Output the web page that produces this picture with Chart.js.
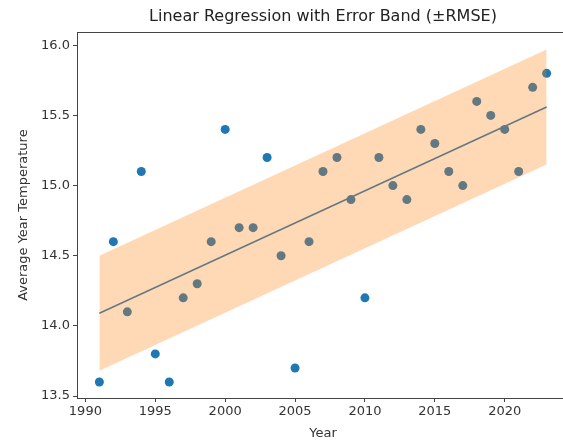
<!DOCTYPE html>
<html>
<head>
<meta charset="utf-8">
<script src="https://cdn.jsdelivr.net/npm/chart.js@4"></script>
<style>
  html, body { margin: 0; padding: 0; background: #fff; overflow: hidden; }
  #wrap { width: 575px; height: 441px; }
</style>
</head>
<body>
<div id="wrap"><canvas id="myChart"></canvas></div>
<script>
// observed data
const years = [1991, 1992, 1993, 1994, 1995, 1996, 1997, 1998, 1999, 2000, 2001,
  2002, 2003, 2004, 2005, 2006, 2007, 2008, 2009, 2010, 2011, 2012, 2013, 2014,
  2015, 2016, 2017, 2018, 2019, 2020, 2021, 2022, 2023];
const temps = [13.6, 14.6, 14.1, 15.1, 13.8, 13.6, 14.2, 14.3, 14.6, 15.4, 14.7,
  14.7, 15.2, 14.5, 13.7, 14.6, 15.1, 15.2, 14.9, 14.2, 15.2, 15.0, 14.9, 15.4,
  15.3, 15.1, 15.0, 15.6, 15.5, 15.4, 15.1, 15.7, 15.8];

// fitted line and band ends
const fitYears = [1991, 2023];
const fitLine = [14.09, 15.56];
const bandUpper = [14.50, 15.97];
const bandLower = [13.68, 15.15];

const xTicks = [1990, 1995, 2000, 2005, 2010, 2015, 2020];
const yTicks = [13.5, 14.0, 14.5, 15.0, 15.5, 16.0];

const toPoints = (xs, ys) => xs.map((x, i) => ({ x: x, y: ys[i] }));

const axisColor = "#444";
const textColor = "#333";
const fontFamily = "'DejaVu Sans', sans-serif";

// draws the full box round the plot area (right side falls outside the window)
const frame = {
  id: "frame",
  afterDatasetsDraw(chart) {
    const a = chart.chartArea;
    const c = chart.ctx;
    c.save();
    c.strokeStyle = axisColor;
    c.lineWidth = 1;
    c.strokeRect(Math.round(a.left) + 0.5, Math.round(a.top) + 0.5,
      Math.round(a.right - a.left), Math.round(a.bottom - a.top));
    c.restore();
  },
};

const ctx = document.getElementById("myChart");
new Chart(ctx, {
  type: "scatter",
  data: {
    datasets: [
      {
        label: "Data",
        data: toPoints(years, temps),
        backgroundColor: "#1f77b4",
        borderWidth: 0,
        pointRadius: 4.5,
        order: 3,
      },
      {
        label: "Fit",
        type: "line",
        data: toPoints(fitYears, fitLine),
        borderColor: "#1f77b4",
        borderWidth: 1.5,
        pointRadius: 0,
        order: 2,
      },
      {
        label: "Upper",
        type: "line",
        data: toPoints(fitYears, bandUpper),
        borderWidth: 0,
        pointRadius: 0,
        backgroundColor: "rgba(255, 127, 14, 0.3)",
        fill: "+1",
        order: 1,
      },
      {
        label: "Lower",
        type: "line",
        data: toPoints(fitYears, bandLower),
        borderWidth: 0,
        pointRadius: 0,
        order: 1,
      },
    ],
  },
  options: {
    responsive: true,
    maintainAspectRatio: false,
    animation: false,
    layout: { padding: { left: 0, right: 6, top: 0, bottom: 0 } },
    plugins: {
      legend: { display: false },
      tooltip: { enabled: false },
      title: {
        display: true,
        fullSize: false,
        text: "Linear Regression with Error Band (±RMSE)",
        color: "#222",
        font: { family: fontFamily, size: 16, weight: "normal" },
        padding: { top: 7, bottom: 6 },
      },
    },
    scales: {
      x: {
        type: "linear",
        min: 1989.4,
        max: 2024.6,
        afterBuildTicks: (axis) => { axis.ticks = xTicks.map((v) => ({ value: v })); },
        afterFit: (axis) => { axis.height = 43; },
        grid: { drawOnChartArea: false, drawTicks: true, tickLength: 4, color: axisColor },
        border: { display: false },
        ticks: {
          color: textColor,
          padding: 2,
          maxRotation: 0,
          font: { family: fontFamily, size: 13 },
          callback: (v) => String(v),
        },
        title: {
          display: true,
          text: "Year",
          color: textColor,
          font: { family: fontFamily, size: 13 },
          padding: { top: 0, bottom: 0 },
        },
      },
      y: {
        min: 13.486,
        max: 16.093,
        afterBuildTicks: (axis) => { axis.ticks = yTicks.map((v) => ({ value: v })); },
        afterFit: (axis) => { axis.width = 77; },
        grid: { drawOnChartArea: false, drawTicks: true, tickLength: 4, color: axisColor },
        border: { display: false },
        ticks: {
          color: textColor,
          padding: 3,
          font: { family: fontFamily, size: 13 },
          callback: (v) => v.toFixed(1),
        },
        title: {
          display: true,
          text: "Average Year Temperature",
          color: textColor,
          font: { family: fontFamily, size: 13 },
          padding: { top: 16, bottom: 0 },
        },
      },
    },
  },
  plugins: [frame],
});
</script>
</body>
</html>
